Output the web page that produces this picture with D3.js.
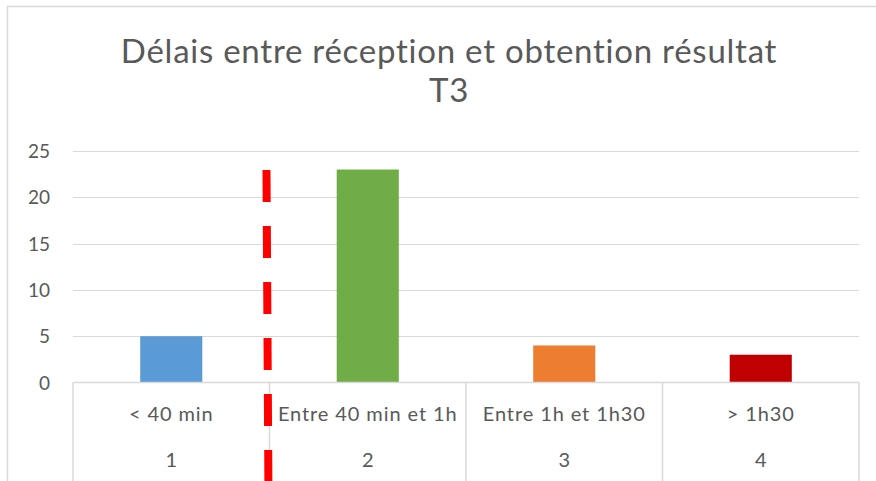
<!DOCTYPE html>
<html>
<head>
<meta charset="utf-8">
<script src="https://cdn.jsdelivr.net/npm/d3@7"></script>
<style>
  body { margin: 0; background: #fff; }
  text { font-family: Lato, "Open Sans", sans-serif; fill: #595959; font-variant-ligatures: none; }
</style>
</head>
<body>
<div id="chart"></div>
<script>
const width = 876;
const height = 481;

// data
const categories = ['< 40 min', 'Entre 40 min et 1h', 'Entre 1h et 1h30', '> 1h30'];
const groups = ['1', '2', '3', '4'];
const values = [5, 23, 4, 3];
const barColors = ['#5b9bd5', '#70ad47', '#ed7d31', '#c00000'];
const yTicks = [0, 5, 10, 15, 20, 25];
const titleLines = ['Délais entre réception et obtention résultat', 'T3'];

const svg = d3.select('#chart').append('svg').attr('width', width).attr('height', height);

// outer chart border (only top/left visible)
svg.append('rect')
    .attr('x', 7.5).attr('y', 6.5)
    .attr('width', width + 10).attr('height', height + 10)
    .attr('fill', 'none').attr('stroke', '#d9d9d9').attr('stroke-width', 1.5);

const plot = { left: 73, right: 859, top: 151, bottom: 382.5 };

const x = d3.scaleBand().domain(categories).range([plot.left, plot.right]).padding(0);
const y = d3.scaleLinear().domain([0, 25]).range([plot.bottom, plot.top]);

// title
svg.append('g').selectAll('text')
    .data(titleLines)
    .enter().append('text')
    .attr('x', 449)
    .attr('y', (d, i) => 63 + i * 38.5)
    .attr('text-anchor', 'middle')
    .attr('font-size', 33)
    .attr('letter-spacing', 0.75)
    .text(d => d);

// gridlines
svg.append('g').selectAll('line')
    .data(yTicks.filter(d => d > 0))
    .enter().append('line')
    .attr('x1', plot.left).attr('x2', plot.right)
    .attr('y1', d => Math.round(y(d)) + 0.5).attr('y2', d => Math.round(y(d)) + 0.5)
    .attr('stroke', '#d9d9d9').attr('stroke-width', 1);

// y axis labels
const yAxis = svg.append('g')
    .attr('transform', 'translate(' + (plot.left - 6) + ',0)')
    .call(d3.axisLeft(y).tickValues(yTicks).tickSize(0).tickPadding(17));
yAxis.select('.domain').remove();
yAxis.selectAll('text').attr('font-size', 19).attr('font-family', 'Lato, sans-serif').attr('fill', '#595959')
    .attr('dy', '0.35em');

// bars
const bw = x.bandwidth() * 0.316;
svg.append('g').selectAll('rect')
    .data(values)
    .enter().append('rect')
    .attr('x', (d, i) => x(categories[i]) + x.bandwidth() / 2 - bw / 2)
    .attr('y', d => y(d))
    .attr('width', bw)
    .attr('height', d => plot.bottom - y(d))
    .attr('fill', (d, i) => barColors[i]);

// category axis: baseline and separators
const axisG = svg.append('g');
axisG.append('line')
    .attr('x1', plot.left).attr('x2', plot.right)
    .attr('y1', plot.bottom).attr('y2', plot.bottom)
    .attr('stroke', '#d9d9d9').attr('stroke-width', 1.5);
const seps = categories.map(c => x(c)).concat([plot.right]);
axisG.selectAll('line.sep')
    .data(seps)
    .enter().append('line')
    .attr('class', 'sep')
    .attr('x1', d => d).attr('x2', d => d)
    .attr('y1', plot.bottom).attr('y2', height)
    .attr('stroke', '#d9d9d9').attr('stroke-width', 1.5);

axisG.selectAll('text.cat')
    .data(categories)
    .enter().append('text')
    .attr('class', 'cat')
    .attr('x', d => x(d) + x.bandwidth() / 2)
    .attr('y', 421)
    .attr('text-anchor', 'middle')
    .attr('font-size', 20)
    .attr('letter-spacing', 0.9)
    .text(d => d);

axisG.selectAll('text.grp')
    .data(groups)
    .enter().append('text')
    .attr('class', 'grp')
    .attr('x', (d, i) => x(categories[i]) + x.bandwidth() / 2)
    .attr('y', 467)
    .attr('text-anchor', 'middle')
    .attr('font-size', 20)
    .text(d => d);

// red dashed separator
const sx = x(categories[1]) - 2;
svg.append('line')
    .attr('x1', sx - 1).attr('x2', sx + 1)
    .attr('y1', 170).attr('y2', height + 20)
    .attr('stroke', '#ff0000')
    .attr('stroke-width', 8)
    .attr('stroke-dasharray', '32,24');
</script>
</body>
</html>
